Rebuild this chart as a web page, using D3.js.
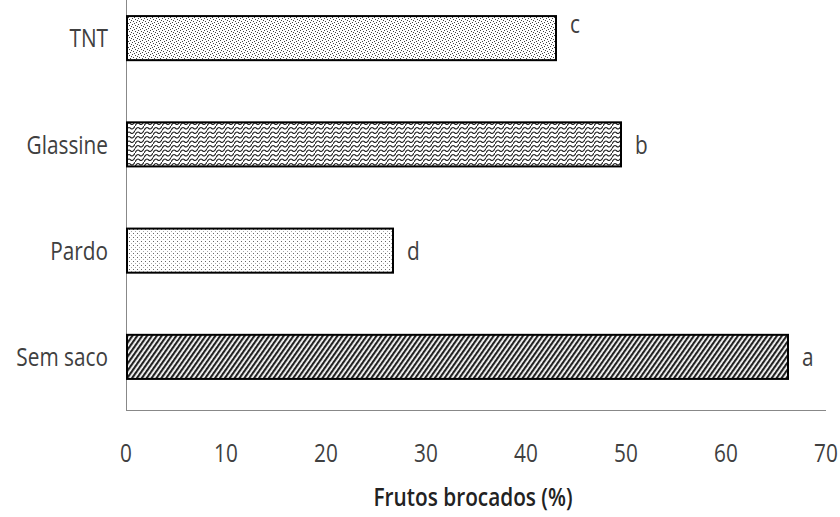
<!DOCTYPE html>
<html><head><meta charset="utf-8">
<script src="https://cdn.jsdelivr.net/npm/d3@7"></script>
<style>body{margin:0;background:#fff}svg{display:block}text{font-family:"Open Sans",sans-serif}</style>
</head><body>
<script>
const categories = ["TNT","Glassine","Pardo","Sem saco"];
const values = [43.0, 49.5, 26.7, 66.2];
const letters = ["c","b","d","a"];
const patternIds = ["pTNT","pGlass","pPardo","pSem"];
const xTicks = [0,10,20,30,40,50,60,70];
const xTitle = "Frutos brocados (%)";

const W=840,H=517, SX=0.8, FS=26;
const svg=d3.select("body").append("svg").attr("width",W).attr("height",H);
const defs=svg.append("defs");
let p=defs.append("pattern").attr("id","pTNT").attr("patternUnits","userSpaceOnUse").attr("width",6).attr("height",6);
p.append("rect").attr("width",6).attr("height",6).attr("fill","#fff");
[[0,0],[3,1],[1,3],[4,4],[2,5],[5,2]].forEach(d=>p.append("rect").attr("x",d[0]).attr("y",d[1]).attr("width",1).attr("height",1).attr("fill","#444"));
p=defs.append("pattern").attr("id","pGlass").attr("patternUnits","userSpaceOnUse").attr("width",9).attr("height",9);
p.append("rect").attr("width",9).attr("height",9).attr("fill","#fff");
p.append("path").attr("d","M0,4.5 Q2.25,0 4.5,2.25 Q6.75,4.5 9,0 M0,9 Q2.25,4.5 4.5,6.75 Q6.75,9 9,4.5").attr("fill","none").attr("stroke","#222").attr("stroke-width",1.1);
p=defs.append("pattern").attr("id","pPardo").attr("patternUnits","userSpaceOnUse").attr("width",4).attr("height",4);
p.append("rect").attr("width",4).attr("height",4).attr("fill","#fff");
p.append("rect").attr("x",1).attr("y",1).attr("width",1).attr("height",1).attr("fill","#666");
p.append("rect").attr("x",3).attr("y",3).attr("width",1).attr("height",1).attr("fill","#aaa");
p=defs.append("pattern").attr("id","pSem").attr("patternUnits","userSpaceOnUse").attr("width",4).attr("height",4).attr("patternTransform","rotate(35)");
p.append("rect").attr("width",4).attr("height",4).attr("fill","#fff");
p.append("rect").attr("width",2.2).attr("height",4).attr("fill","#222");

const x=d3.scaleLinear().domain([0,70]).range([126,826]);
const y=d3.scaleBand().domain(categories).range([-15,410]).paddingInner(0.585).paddingOuter(0.2925);

svg.append("line").attr("x1",126.5).attr("x2",126.5).attr("y1",0).attr("y2",410).attr("stroke","#888");
svg.append("line").attr("x1",126).attr("x2",826).attr("y1",410.5).attr("y2",410.5).attr("stroke","#888");

function label(sel, anchor){
  return sel.attr("text-anchor",anchor).attr("font-size",FS).attr("fill","#404040").attr("dy","0.36em");
}
label(svg.selectAll(".tick").data(xTicks).join("text").attr("transform",d=>`translate(${x(d)},453) scale(${SX},1)`),"middle").text(d=>d);

label(svg.selectAll(".cat").data(categories).join("text").attr("transform",d=>`translate(108,${y(d)+y.bandwidth()/2}) scale(${SX},1)`),"end").text(d=>d);

svg.selectAll(".bar").data(categories).join("rect")
 .attr("x",x(0)+1).attr("y",d=>y(d)).attr("width",(d,i)=>x(values[i])-x(0)-1).attr("height",y.bandwidth())
 .attr("fill",(d,i)=>`url(#${patternIds[i]})`).attr("stroke","#000").attr("stroke-width",2);

label(svg.selectAll(".lab").data(categories).join("text").attr("transform",(d,i)=>`translate(${x(values[i])+14},${y(d)+y.bandwidth()/2+(i==0?-14:0)}) scale(${SX},1)`),"start").text((d,i)=>letters[i]);

label(svg.append("text").attr("transform",`translate(473,497) scale(${SX},1)`),"middle").attr("font-size",26).attr("font-weight",600).attr("fill","#222").text(xTitle);
</script>
</body></html>
